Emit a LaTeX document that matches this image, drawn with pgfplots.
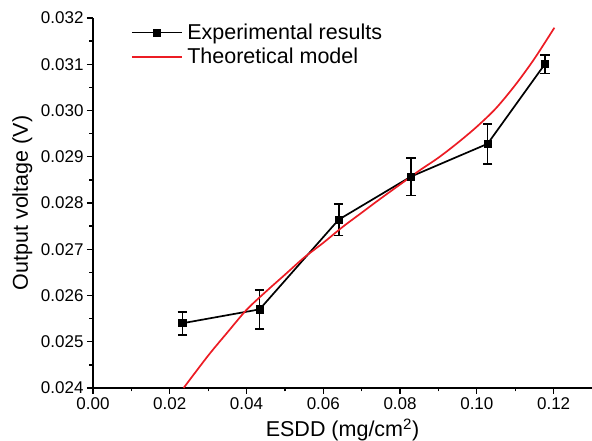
\documentclass[border=0pt]{standalone}
\usepackage{pgfplots}
\pgfplotsset{compat=1.18}
\usepackage{fontspec}
\setmainfont{Liberation Sans}
\definecolor{modelred}{RGB}{236,28,36}
\begin{document}
\begin{tikzpicture}
\begin{axis}[
  scale only axis, width=499pt, height=370pt,
  xmin=0, xmax=0.13, ymin=0.024, ymax=0.032,
  axis x line*=bottom, axis y line*=left,
  axis line style={line width=1.3pt},
  xtick={0,0.02,0.04,0.06,0.08,0.10,0.12},
  ytick={0.024,0.025,0.026,0.027,0.028,0.029,0.030,0.031,0.032},
  minor x tick num=1, minor y tick num=1,
  tick align=outside, major tick length=6pt, minor tick length=3.5pt,
  every tick/.style={black, line width=1.3pt},
  scaled x ticks=false, scaled y ticks=false,
  /pgf/number format/assume math mode=true,
  xticklabel style={/pgf/number format/.cd, fixed, fixed zerofill, precision=2},
  yticklabel style={/pgf/number format/.cd, fixed, fixed zerofill, precision=3},
  tick label style={font=\fontsize{17}{20}\selectfont},
  label style={font=\fontsize{21.5}{24}\selectfont},
  xlabel={ESDD (mg/cm\textsuperscript{2})},
  ylabel={Output voltage (V)},
  xlabel style={at={(axis description cs:0.5,0)}, anchor=base, yshift=-49pt},
  ylabel style={at={(axis description cs:-0.1303,0.5)}, anchor=base},
  legend style={at={(axis description cs:0.07,0.995)}, anchor=north west,
    draw=none, fill=none, font=\fontsize{21.5}{24}\selectfont,
    legend cell align=left, row sep=3pt,
    nodes={inner xsep=4.5pt}},
  legend image code/.code={\draw[mark repeat=2,mark phase=2,#1]
    plot coordinates {(0pt,0pt)(25pt,0pt)(50pt,0pt)};},
  clip=false,
]
\addplot[black, line width=1.7pt, mark=square*, mark size=3.6pt,
  mark options={solid, line width=0.8pt},
  error bars/.cd, y dir=both, y explicit,
  error bar style={line width=1.7pt, black},
  error mark options={rotate=90, mark size=4.8pt, line width=1.7pt, black}]
coordinates {
(0.0233,0.02540) +- (0,0.00025)
(0.0434,0.02570) +- (0,0.00042)
(0.0640,0.02764) +- (0,0.00034)
(0.0828,0.02857) +- (0,0.00041)
(0.1028,0.02928) +- (0,0.00043)
(0.1177,0.03100) +- (0,0.00020)
};
\addlegendentry{Experimental results}

\addplot[modelred, line width=1.7pt, smooth] coordinates {
(0.0236,0.02400)
(0.030,0.02470)
(0.035,0.02520)
(0.040,0.02569)
(0.045,0.02608)
(0.050,0.02645)
(0.055,0.02682)
(0.060,0.02714)
(0.065,0.02748)
(0.070,0.02779)
(0.075,0.02810)
(0.080,0.02840)
(0.085,0.02870)
(0.090,0.02898)
(0.095,0.02930)
(0.100,0.02965)
(0.105,0.03005)
(0.110,0.03055)
(0.115,0.03112)
(0.1202,0.03179)
};
\addlegendentry{Theoretical model}
\end{axis}
\pgfresetboundingbox
\path ([shift={(-93pt,-53pt)}]current axis.south west) rectangle ([yshift=18pt]current axis.north east);
\end{tikzpicture}
\end{document}
